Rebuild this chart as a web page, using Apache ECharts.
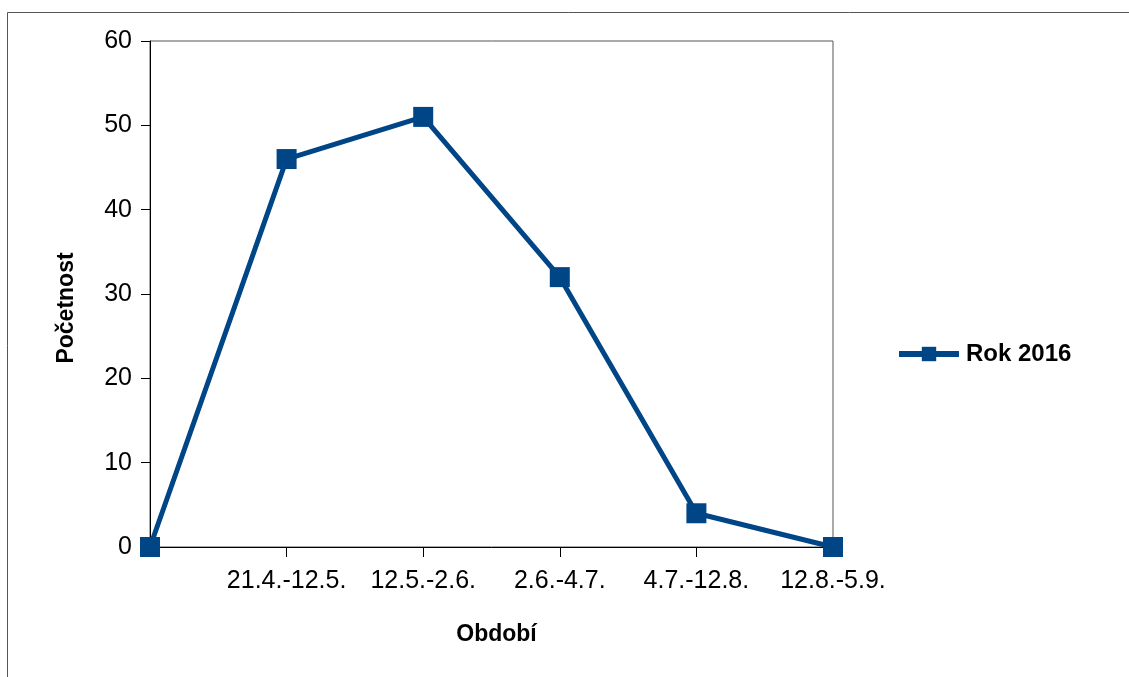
<!DOCTYPE html>
<html>
<head>
<meta charset="utf-8">
<script src="https://cdn.jsdelivr.net/npm/echarts@6/dist/echarts.min.js"></script>
<style>
html,body{margin:0;padding:0;background:#fff;}
#c{width:1129px;height:677px;}
</style>
</head>
<body>
<div id="c"></div>
<script>
var categories = ['', '21.4.-12.5.', '12.5.-2.6.', '2.6.-4.7.', '4.7.-12.8.', '12.8.-5.9.'];
var values2016 = [0, 46, 51, 32, 4, 0];
var seriesName = 'Rok 2016';
var xTitle = 'Období';
var yTitle = 'Početnost';

var chart = echarts.init(document.getElementById('c'), null, {renderer: 'canvas'});
var blue = '#004586';
var font = '"Liberation Sans", Arial, sans-serif';
chart.setOption({
  animation: false,
  backgroundColor: '#fff',
  graphic: [{
    type: 'rect', shape: {x: 7.5, y: 12.5, width: 1200, height: 800},
    style: {fill: 'none', stroke: '#555', lineWidth: 1}, silent: true, z: -1
  }],
  grid: {left: 150, right: 296, top: 41, bottom: 130, show: true, borderColor: '#555', borderWidth: 1, backgroundColor: 'transparent'},
  legend: {
    data: [seriesName], left: 891, top: 337, itemWidth: 60, itemHeight: 18,
    lineStyle: {width: 6, color: blue},
    textStyle: {fontFamily: font, fontWeight: 'bold', fontSize: 24, color: '#000', padding: [0, 0, 0, 2]}, itemGap: 8
  },
  xAxis: {
    type: 'category', data: categories, boundaryGap: false,
    name: xTitle, nameLocation: 'middle', nameGap: 76,
    nameTextStyle: {fontFamily: font, fontWeight: 'bold', fontSize: 23, color: '#000', padding: [0, 0, 0, 10]},
    axisLine: {lineStyle: {color: '#000', width: 1}},
    axisTick: {show: true, inside: false, length: 10, interval: 0, lineStyle: {color: '#000'}},
    axisLabel: {interval: 0, margin: 22, fontFamily: font, fontSize: 25, color: '#000'},
    splitLine: {show: false}
  },
  yAxis: {
    type: 'value', min: 0, max: 60, interval: 10,
    name: yTitle, nameLocation: 'middle', nameGap: 72, nameRotate: 90,
    nameTextStyle: {fontFamily: font, fontWeight: 'bold', fontSize: 23, color: '#000', padding: [0, 28, 0, 0]},
    axisLine: {show: true, lineStyle: {color: '#000', width: 1}},
    axisTick: {show: true, inside: false, length: 9, lineStyle: {color: '#000'}},
    axisLabel: {margin: 18, fontFamily: font, fontSize: 25, color: '#000'},
    splitLine: {show: false}
  },
  series: [{
    name: seriesName, type: 'line', data: values2016,
    symbol: 'rect', symbolSize: 20,
    lineStyle: {color: blue, width: 5},
    itemStyle: {color: blue},
    z: 5
  }]
});
</script>
</body>
</html>
